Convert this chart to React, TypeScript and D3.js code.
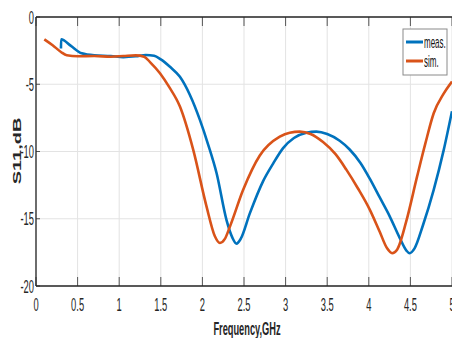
import React from "react";
import * as d3 from "d3";

const W = 452;
const H = 338;

const xTicks = [0, 0.5, 1, 1.5, 2, 2.5, 3, 3.5, 4, 4.5, 5];
const xTickLabels = ["0", "0.5", "1", "1.5", "2", "2.5", "3", "3.5", "4", "4.5", "5"];
const yTicks = [0, -5, -10, -15, -20];
const yTickLabels = ["0", "-5", "-10", "-15", "-20"];

const measFreq = [0.3, 0.302, 0.42, 0.55, 0.7, 0.9, 1.05, 1.2, 1.32, 1.42, 1.5, 1.61, 1.73, 1.85, 1.97, 2.07, 2.17, 2.29, 2.36, 2.41, 2.46, 2.57, 2.73, 2.85, 2.97, 3.1, 3.25, 3.37, 3.5, 3.65, 3.77, 3.9, 4.01, 4.13, 4.25, 4.37, 4.45, 4.49, 4.55, 4.65, 4.78, 4.9, 5.0];
const measS11 = [-2.35, -1.65, -2.15, -2.7, -2.85, -2.9, -2.98, -2.92, -2.82, -2.88, -3.15, -3.7, -4.45, -5.8, -7.65, -9.5, -11.6, -15.1, -16.4, -16.85, -16.5, -14.6, -12.2, -10.9, -9.75, -9.0, -8.6, -8.52, -8.7, -9.2, -9.85, -10.85, -12.0, -13.4, -14.8, -16.4, -17.35, -17.56, -17.2, -15.5, -12.85, -9.9, -7.0];

const simFreq = [0.1, 0.2, 0.3, 0.37, 0.5, 0.7, 0.9, 1.05, 1.2, 1.3, 1.37, 1.49, 1.6, 1.73, 1.89, 2.05, 2.15, 2.21, 2.27, 2.33, 2.49, 2.69, 2.93, 3.05, 3.17, 3.3, 3.45, 3.6, 3.73, 3.87, 4.01, 4.13, 4.22, 4.28, 4.34, 4.45, 4.58, 4.68, 4.78, 4.9, 5.0];
const simS11 = [-1.66, -2.1, -2.6, -2.85, -2.92, -2.9, -2.95, -2.9, -2.85, -2.95, -3.35, -4.18, -5.2, -6.66, -9.88, -14.1, -16.3, -16.8, -16.5, -15.6, -12.85, -10.3, -8.9, -8.6, -8.52, -8.7, -9.3, -10.2, -11.35, -12.75, -14.3, -15.95, -17.2, -17.56, -17.3, -15.2, -11.87, -9.4, -7.16, -5.7, -4.8];

const legendLabels = ["meas.", "sim."];
const colors = ["#0072BD", "#D95319"];

const FONT = "'Liberation Sans', Arial, Helvetica, sans-serif";

export default function App() {
  const x = d3.scaleLinear().domain([0, 5]).range([36, 452]);
  const y = d3.scaleLinear().domain([-20, 0]).range([286, 17]);

  const line = d3
    .line<[number, number]>()
    .x((d) => x(d[0]))
    .y((d) => y(d[1]))
    .curve(d3.curveMonotoneX);

  const meas: [number, number][] = measFreq.map((f, i) => [f, measS11[i]]);
  const sim: [number, number][] = simFreq.map((f, i) => [f, simS11[i]]);

  const sx = 0.52;

  return (
    <svg
      width={W}
      height={H}
      style={{ position: "absolute", left: 0, top: 0, background: "#fff" }}
      fontFamily={FONT}
    >
      <rect x={0} y={0} width={W} height={H} fill="#fff" />
      {/* grid */}
      {xTicks.map((t) => (
        <line key={"gx" + t} x1={x(t)} x2={x(t)} y1={y(0)} y2={y(-20)} stroke="#e3e3e3" strokeWidth={1} />
      ))}
      {yTicks.map((t) => (
        <line key={"gy" + t} x1={x(0)} x2={x(5)} y1={y(t)} y2={y(t)} stroke="#e3e3e3" strokeWidth={1} />
      ))}
      {/* data */}
      <path d={line(meas) || ""} fill="none" stroke={colors[0]} strokeWidth={2.6} strokeLinejoin="round" />
      <path d={line(sim) || ""} fill="none" stroke={colors[1]} strokeWidth={2.6} strokeLinejoin="round" />
      {/* ticks */}
      {xTicks.map((t) => (
        <g key={"tx" + t}>
          <line x1={x(t)} x2={x(t)} y1={y(-20)} y2={y(-20) - 9} stroke="#555" strokeWidth={1} />
          <line x1={x(t)} x2={x(t)} y1={y(0)} y2={y(0) + 9} stroke="#555" strokeWidth={1} />
        </g>
      ))}
      {yTicks.map((t) => (
        <line key={"ty" + t} x1={x(0)} x2={x(0) + 4} y1={y(t)} y2={y(t)} stroke="#555" strokeWidth={1} />
      ))}
      {/* axes */}
      <line x1={x(0)} x2={x(5)} y1={y(0)} y2={y(0)} stroke="#262626" strokeWidth={1.3} />
      <line x1={x(0)} x2={x(5)} y1={y(-20)} y2={y(-20)} stroke="#262626" strokeWidth={1.3} />
      <line x1={x(0)} x2={x(0)} y1={y(0)} y2={y(-20)} stroke="#262626" strokeWidth={1.3} />
      {/* tick labels */}
      {xTicks.map((t, i) => (
        <text
          key={"lx" + t}
          transform={`translate(${x(t)},${311}) scale(${sx},1)`}
          textAnchor="middle"
          fontSize={18}
          fill="#262626"
        >
          {xTickLabels[i]}
        </text>
      ))}
      {yTicks.map((t, i) => (
        <text
          key={"ly" + t}
          transform={`translate(34,${y(t) + 6.5}) scale(${sx},1)`}
          textAnchor="end"
          fontSize={18}
          fill="#262626"
        >
          {yTickLabels[i]}
        </text>
      ))}
      {/* axis labels */}
      <text
        transform={`translate(247,335) scale(0.515,1)`}
        textAnchor="middle"
        fontSize={18}
        fontWeight="bold"
        fill="#262626"
      >
        Frequency,GHz
      </text>
      <text
        transform={`translate(21,151) scale(0.55,1) rotate(-90)`}
        textAnchor="middle"
        fontSize={20}
        fontWeight="bold"
        fill="#262626"
      >
        S11,dB
      </text>
      {/* legend */}
      <rect x={403} y={29} width={44} height={46} fill="#fff" stroke="#8a8a8a" strokeWidth={1} />
      {legendLabels.map((lab, i) => (
        <g key={lab}>
          <line x1={406} x2={423} y1={42 + i * 19} y2={42 + i * 19} stroke={colors[i]} strokeWidth={3} />
          <text
            transform={`translate(424,${48 + i * 19}) scale(0.47,1)`}
            fontSize={17}
            fill="#111"
          >
            {lab}
          </text>
        </g>
      ))}
    </svg>
  );
}
